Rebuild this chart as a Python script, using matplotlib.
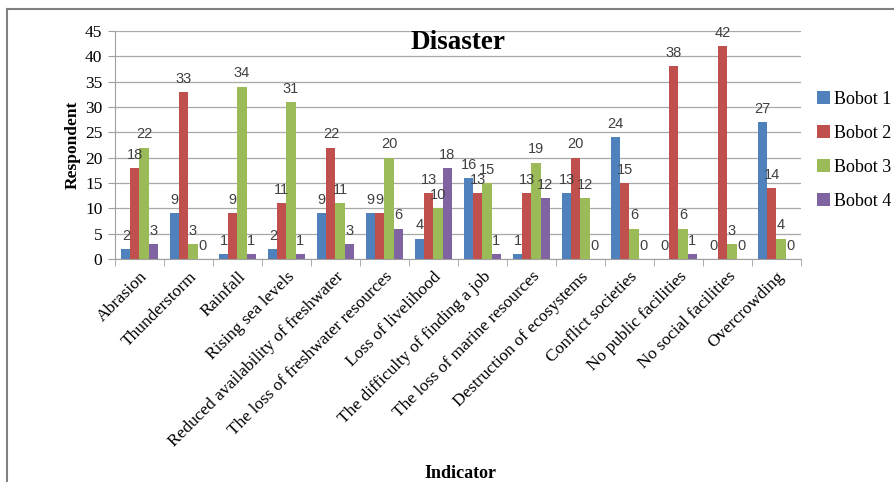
import numpy as np
import matplotlib
matplotlib.use('Agg')
import matplotlib.pyplot as plt
from matplotlib.lines import Line2D

categories = ['Abrasion', 'Thunderstorm', 'Rainfall', 'Rising sea levels',
              'Reduced availability of freshwater', 'The loss of freshwater resources',
              'Loss of livelihood', 'The difficulty of finding a job',
              'The loss of marine resources', 'Destruction of ecosystems',
              'Conflict societies', 'No public facilities', 'No social facilities',
              'Overcrowding']
bobot1 = [2, 9, 1, 2, 9, 9, 4, 16, 1, 13, 24, 0, 0, 27]
bobot2 = [18, 33, 9, 11, 22, 9, 13, 13, 13, 20, 15, 38, 42, 14]
bobot3 = [22, 3, 34, 31, 11, 20, 10, 15, 19, 12, 6, 6, 3, 4]
bobot4 = [3, 0, 1, 1, 3, 6, 18, 1, 12, 0, 0, 1, 0, 0]
series_names = ['Bobot 1', 'Bobot 2', 'Bobot 3', 'Bobot 4']
colors = ['#4F81BD', '#C0504D', '#9BBB59', '#8064A2']

serif = 'Liberation Serif'

fig = plt.figure(figsize=(8.94, 4.82), dpi=100)
ax = fig.add_axes([0.1286, 0.4627, 0.7673, 0.473])

x = np.arange(len(categories))
width = 0.185
for i, (vals, name, c) in enumerate(zip([bobot1, bobot2, bobot3, bobot4], series_names, colors)):
    pos = x + (i - 1.5) * width
    bars = ax.bar(pos, vals, width, color=c, label=name, zorder=3)
    for b, v in zip(bars, vals):
        ax.annotate(str(v), (b.get_x() + b.get_width() / 2, v),
                    xytext=(0, 4.5), textcoords='offset points',
                    ha='center', va='bottom', fontsize=10.5,
                    color='#404040', family='Liberation Sans', zorder=4)

ax.set_xlim(-0.5, len(categories) - 0.5)
ax.set_ylim(0, 45)
ax.set_yticks(range(0, 46, 5))
ax.grid(axis='y', color='#a8a8a8', linewidth=0.9, zorder=0)

for s in ['top', 'right']:
    ax.spines[s].set_visible(False)
for s in ['left', 'bottom']:
    ax.spines[s].set_color('#a0a0a0')

# category labels sit at centres, ticks at group boundaries
ax.set_xticks(x)
ax.set_xticklabels(categories, rotation=45, ha='right', rotation_mode='anchor',
                   family=serif, fontsize=12.5)
ax.tick_params(axis='x', length=0, pad=7)
ax.set_xticks(np.arange(-0.5, len(categories)), minor=True)
ax.tick_params(axis='x', which='minor', length=5, color='#a0a0a0')
ax.tick_params(axis='y', length=5, color='#a0a0a0', labelsize=12.5, pad=4)
for lbl in ax.get_yticklabels():
    lbl.set_family(serif)

ax.set_ylabel('Respondent', family=serif, fontweight='bold', fontsize=12.5, labelpad=3)
ax.text(0.5, 1.005, 'Disaster', transform=ax.transAxes, ha='center', va='top',
        family=serif, fontweight='bold', fontsize=19.5)
fig.text(0.515, 0.018, 'Indicator', ha='center', va='center',
         family=serif, fontweight='bold', fontsize=13)

ax.legend(loc='upper left', bbox_to_anchor=(1.0, 0.81), frameon=False,
          prop={'family': serif, 'size': 13}, handlelength=0.7, handleheight=0.7,
          handletextpad=0.25, labelspacing=0.95)

# outer frame (left and top edges)
fig.add_artist(Line2D([7 / 894, 7 / 894], [0, 1 - 9 / 482], transform=fig.transFigure,
                      color='#808080', linewidth=1.5))
fig.add_artist(Line2D([7 / 894, 1], [1 - 9 / 482, 1 - 9 / 482], transform=fig.transFigure,
                      color='#808080', linewidth=1.5))

fig.savefig('out.png', dpi=100)
